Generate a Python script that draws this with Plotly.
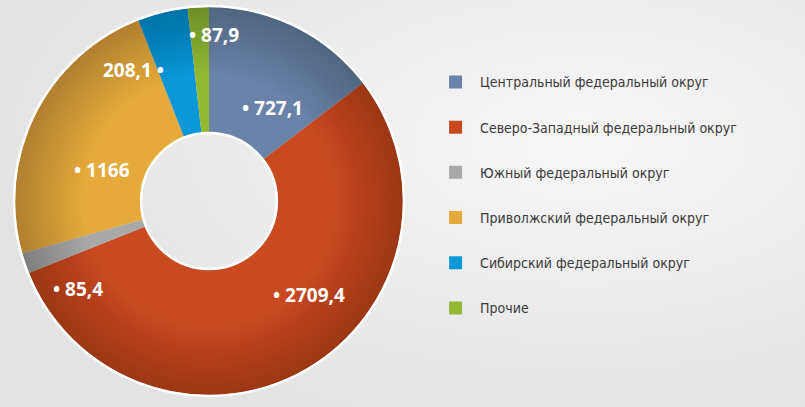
import math
import plotly.graph_objects as go

regions = ["Центральный федеральный округ", "Северо-Западный федеральный округ",
           "Южный федеральный округ", "Приволжский федеральный округ",
           "Сибирский федеральный округ", "Прочие"]
values = [727.1, 2709.4, 85.4, 1166, 208.1, 87.9]
colors = ["#6a84a9", "#c94a21", "#a9a9a9", "#e6aa3c", "#0a98d9", "#93b834"]

# label styling: bullet side, radial distance (px), angular nudge (deg)
bullet_after = [False, False, False, False, True, False]
label_r = [112, 137, 158, 111, 151, 166]
label_nudge = [8, -17, -15, -10.5, -16, 5]

W, H = 805, 407
cx, cy, R = 209, 201, 194
hole = 0.35
dom_x = [(cx - R) / W, (cx + R) / W]
dom_y = [1 - (cy + R) / H, 1 - (cy - R) / H]

fig = go.Figure()
fig.add_trace(go.Pie(
    labels=regions, values=values, sort=False, direction="clockwise",
    rotation=0, hole=hole, textinfo="none",
    marker=dict(colors=colors, line=dict(width=0)),
    domain=dict(x=dom_x, y=dom_y), showlegend=False, hoverinfo="skip",
))

# soft darkening towards the outer edge (vignette)
for k in range(14):
    h = 0.985 - k * 0.025
    fig.add_trace(go.Pie(
        values=[1], labels=[""], hole=h, textinfo="none", sort=False,
        marker=dict(colors=["rgba(0,0,0,0.017)"], line=dict(width=0)),
        domain=dict(x=dom_x, y=dom_y), showlegend=False, hoverinfo="skip",
    ))

for name, c in zip(regions, colors):
    fig.add_trace(go.Scatter(
        x=[None], y=[None], mode="markers", name=name, legendgroup=name,
        marker=dict(symbol="square", size=13, color=c),
    ))

# white rims on outer and inner edge
for r in (R + 1, R * hole):
    fig.add_shape(type="circle", xref="paper", yref="paper",
                  x0=(cx - r) / W, x1=(cx + r) / W,
                  y0=1 - (cy + r) / H, y1=1 - (cy - r) / H,
                  line=dict(color="white", width=2.5), layer="above")

# value labels placed at each slice's angle
total = sum(values)
cum = 0.0
for v, after, r, nd in zip(values, bullet_after, label_r, label_nudge):
    mid = (cum + v / 2) / total * 360 + nd
    cum += v
    t = math.radians(mid)
    s = f"{v:g}".replace(".", ",")
    txt = f"{s} •" if after else f"• {s}"
    fig.add_annotation(
        x=(cx + r * math.sin(t)) / W, y=1 - (cy - r * math.cos(t)) / H,
        xref="paper", yref="paper", text=txt, showarrow=False,
        xanchor="center", yanchor="middle",
        font=dict(family="Open Sans", size=19, color="white", weight="bold"),
    )

bg_svg = ("data:image/svg+xml;utf8,<svg xmlns='http://www.w3.org/2000/svg' width='805' height='407'>"
          "<defs><radialGradient id='g' cx='0.72' cy='0.35' r='0.75'>"
          "<stop offset='0' stop-color='%23f7f7f7'/><stop offset='1' stop-color='%23e3e3e3'/>"
          "</radialGradient></defs><rect width='805' height='407' fill='url(%23g)'/></svg>")

fig.update_layout(
    width=W, height=H, margin=dict(l=0, r=0, t=0, b=0),
    paper_bgcolor="#ececec", plot_bgcolor="rgba(0,0,0,0)",
    xaxis=dict(visible=False), yaxis=dict(visible=False),
    images=[dict(source=bg_svg, xref="paper", yref="paper", x=0, y=1,
                 sizex=1, sizey=1, sizing="stretch", layer="below")],
    legend=dict(x=0.5355, y=0.837, xanchor="left", yanchor="top",
                font=dict(family="DejaVu Sans Condensed, Roboto",
                          size=14, color="#3a3a3a"),
                tracegroupgap=24, itemwidth=39, bgcolor="rgba(0,0,0,0)"),
)

fig.write_html("out.html", config={"displayModeBar": False},
               post_script="document.body.style.margin='0';")
